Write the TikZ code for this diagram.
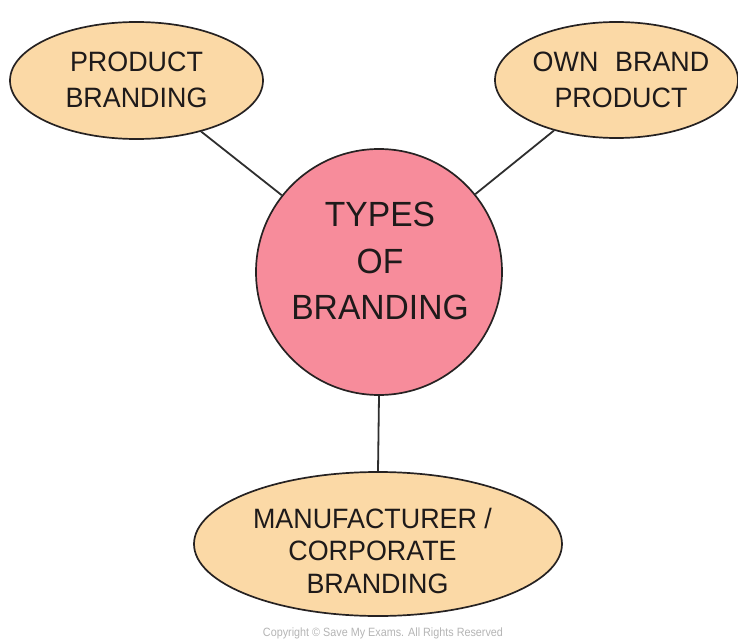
\documentclass[tikz,border=0pt]{standalone}
\usepackage{fontspec}
\setmainfont[FakeStretch=0.96]{Liberation Sans}
\newfontfamily\cpyfont[FakeStretch=0.9]{Liberation Sans}
\usetikzlibrary{shapes.geometric}
\definecolor{peach}{HTML}{FBD9A6}
\definecolor{pinkfill}{HTML}{F78C9B}
\definecolor{outline}{HTML}{262222}
\definecolor{linkgray}{HTML}{2E2E2E}
\definecolor{copygray}{HTML}{B4B4B4}
\definecolor{ink}{HTML}{1E1A1A}
\begin{document}
\begin{tikzpicture}[x=1pt,y=-1pt,
  topic/.style={ellipse, draw=outline, line width=1.7pt, fill=peach, inner sep=0pt},
  hub/.style={circle, draw=outline, line width=1.7pt, fill=pinkfill, inner sep=0pt, minimum size=246pt},
  lbl/.style={align=center, inner sep=0pt, text=ink},
  small/.style={font=\fontsize{28}{36.5}\selectfont},
  tight/.style={font=\fontsize{28}{32.5}\selectfont},
  big/.style={font=\fontsize{35}{46.5}\selectfont},
  link/.style={draw=linkgray, line width=1.8pt}]
\useasboundingbox (0,0) rectangle (738,639);
\node[hub] (hub) at (379,272) {};
\node[topic, minimum width=253pt, minimum height=117pt] (pb) at (136.5,80.5) {};
\node[topic, minimum width=243pt, minimum height=116pt] (ob) at (616.5,80) {};
\node[topic, minimum width=368pt, minimum height=144pt] (mb) at (378,544) {};
\draw[link] (pb) -- (hub);
\draw[link] (ob) -- (hub);
\draw[link] (hub.south) -- (mb.north);
\node[lbl, small] (pbt) at (136.5,80) {PRODUCT\\BRANDING};
\node[lbl, small] (obt) at (621,80) {OWN\hspace{0.6em}BRAND\\PRODUCT};
\node[lbl, big] (hubt) at (380,261) {TYPES\\OF\\BRANDING};
\node[lbl, tight] (mbt) at (372.5,550.5) {MANUFACTURER /\\CORPORATE\hspace*{20pt}\\\hspace*{10pt}BRANDING};
\node[font=\cpyfont\fontsize{12}{14}\selectfont, text=copygray, anchor=base, inner sep=0pt] (copy) at (383,636) {Copyright © Save My Exams. All Rights Reserved};
\end{tikzpicture}
\end{document}
